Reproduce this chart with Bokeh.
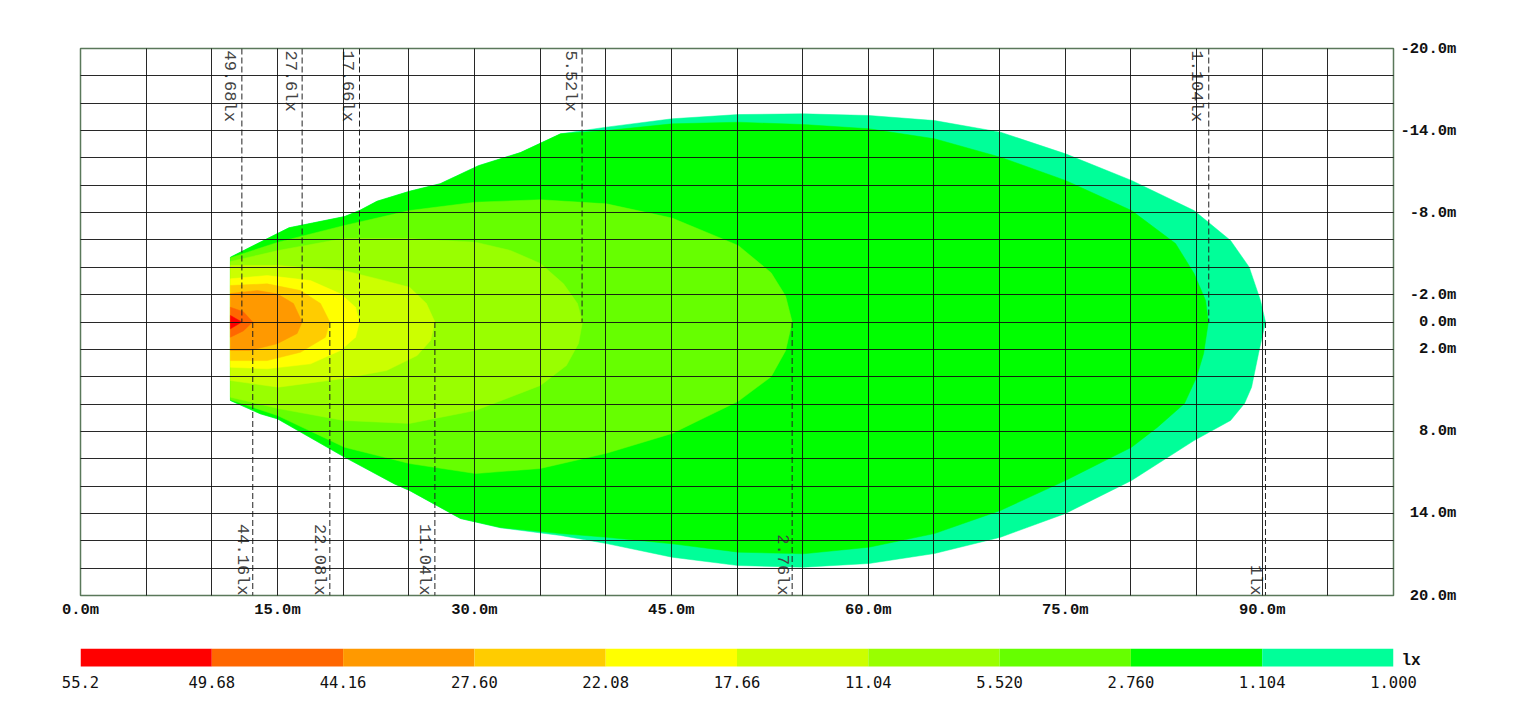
import math
from bokeh.plotting import figure
from bokeh.models import Range1d, FixedTicker, PrintfTickFormatter, ColumnDataSource, LinearAxis
from bokeh.layouts import column
from bokeh.core.properties import value
from bokeh.embed import file_html
from bokeh.resources import INLINE

# ---------------- data ----------------
levels = [55.2, 49.68, 44.16, 27.60, 22.08, 17.66, 11.04, 5.520, 2.760, 1.104, 1.000]
level_labels = ["55.2", "49.68", "44.16", "27.60", "22.08", "17.66", "11.04", "5.520", "2.760", "1.104", "1.000"]
band_colors = ["#FF0000", "#FF6600", "#FF9900", "#FFCC00", "#FFFF00",
               "#CCFF00", "#99FF00", "#66FF00", "#00FF00", "#00FF99"]
unit_label = "lx"

# iso-lux contour outlines (metres): x = distance, y = lateral offset
c1000_x = [11.42, 15.88, 20.11, 21.25, 22.58, 25.06, 27.39, 30.31, 33.51, 36.56, 40.06, 45.06, 50.09, 55.07,
           60.05, 65.04, 70.07, 75.02, 80.05, 84.81, 87.59, 89.01, 89.87, 90.25, 89.72, 89.19, 88.65, 87.59,
           84.81, 80.05, 75.02, 70.07, 65.04, 60.05, 55.07, 50.09, 45.06, 40.06, 36.56, 31.99, 28.94, 25.06,
           23.89, 20.11, 15.00, 13.69, 11.42]
c1000_y = [-4.74, -6.89, -7.71, -8.15, -8.83, -9.56, -10.11, -11.43, -12.39, -13.76, -14.25, -14.86, -15.17, -15.22,
           -15.10, -14.73, -13.88, -12.30, -10.35, -8.15, -5.96, -4.01, -1.57, 0.0, 2.30, 4.77, 5.96, 7.20,
           8.67, 11.59, 14.00, 15.74, 16.93, 17.66, 17.93, 17.81, 17.20, 16.20, 15.61, 15.05, 14.37, 12.32,
           11.83, 9.88, 7.08, 6.71, 5.74]

c1104_x = [11.42, 15.88, 20.11, 21.25, 22.58, 25.06, 27.39, 30.31, 33.51, 36.56, 40.06, 45.06, 50.09, 55.07,
           60.05, 65.04, 70.07, 75.02, 80.05, 83.40, 84.81, 85.69, 85.90, 85.54, 85.00, 84.08, 82.03, 80.05,
           75.02, 70.07, 65.04, 60.05, 55.07, 50.09, 45.06, 40.06, 36.56, 31.99, 28.94, 25.06, 23.89, 20.11,
           15.00, 13.69, 11.42]
c1104_y = [-4.74, -6.89, -7.71, -8.15, -8.83, -9.56, -10.11, -11.43, -12.39, -13.76, -14.00, -14.49, -14.61, -14.44,
           -14.13, -13.40, -12.05, -10.35, -8.15, -5.74, -3.55, -1.57, 0.0, 2.30, 4.04, 5.96, 7.69, 9.16,
           11.59, 13.78, 15.47, 16.47, 16.95, 16.83, 16.22, 15.74, 15.47, 15.03, 14.37, 12.32, 11.83, 9.88,
           7.08, 6.71, 5.74]

c2760_x = [11.42, 15.06, 20.11, 25.06, 30.08, 35.03, 40.06, 45.06, 50.09, 52.6, 53.7, 54.2, 53.7, 52.6,
           50.09, 45.06, 40.06, 35.03, 30.08, 25.06, 20.11, 15.00, 11.42]
c2760_y = [-4.69, -5.84, -7.06, -8.15, -8.76, -8.94, -8.64, -7.6, -5.6, -3.6, -1.9, 0.0, 2.1, 4.0,
           5.8, 8.15, 9.6, 10.71, 11.08, 10.35, 9.16, 6.84, 5.69]

c5520_x = [11.42, 15.06, 20.03, 25.06, 30.08, 32.75, 35.03, 36.79, 37.85, 38.23, 37.93, 37.01, 35.03,
           30.08, 25.06, 20.03, 15.06, 11.42]
c5520_y = [-4.42, -5.23, -6.11, -6.11, -5.84, -5.23, -4.28, -2.79, -1.35, 0.0, 1.57, 3.18, 4.64,
           6.47, 7.42, 7.20, 6.33, 5.50]

c11040_x = [11.42, 15.06, 20.03, 23.00, 25.06, 26.35, 26.99, 26.66, 25.64, 23.31, 20.03, 15.06, 11.42]
c11040_y = [-4.13, -4.13, -3.77, -3.06, -2.54, -1.35, 0.0, 1.35, 2.45, 3.55, 4.13, 4.77, 4.28]

c17660_x = [11.42, 14.22, 17.52, 19.80, 20.95, 21.25, 20.95, 19.80, 17.52, 14.22, 11.42]
c17660_y = [-3.16, -3.40, -3.03, -2.06, -1.08, 0.0, 1.11, 2.08, 3.06, 3.42, 3.31]

c22080_x = [11.42, 14.22, 16.76, 18.28, 18.99, 18.66, 16.76, 14.22, 11.42]
c22080_y = [-2.67, -2.79, -2.30, -1.35, 0.0, 1.11, 2.21, 2.82, 2.82]

c27600_x = [11.42, 13.46, 14.98, 16.22, 16.88, 16.50, 14.98, 12.90, 11.42]
c27600_y = [-2.08, -2.30, -2.06, -1.35, 0.0, 0.84, 1.59, 2.08, 2.08]

c44160_x = [11.42, 12.40, 13.12, 12.40, 11.42]
c44160_y = [-1.08, -0.75, 0.0, 0.65, 1.11]

c49680_x = [11.42, 12.29, 11.42]
c49680_y = [-0.48, 0.0, 0.50]

# reach markers (dashed lines with labels)
top_mark_x = [12.29, 16.88, 21.25, 38.20, 85.93]
top_mark_text = ["49.68lx", "27.6lx", "17.66lx", "5.52lx", "1.104lx"]
bot_mark_x = [13.12, 18.99, 26.99, 54.20, 90.25]
bot_mark_text = ["44.16lx", "22.08lx", "11.04lx", "2.76lx", "1lx"]

x_ticks = [0, 15, 30, 45, 60, 75, 90]
y_ticks = [-20, -14, -8, -2, 0, 2, 8, 14, 20]
X_MIN, X_MAX, Y_MIN, Y_MAX = 0, 100, -20, 20

# ---------------- main plot ----------------
p = figure(width=1483, height=630, x_range=Range1d(X_MIN, X_MAX), y_range=Range1d(Y_MAX, Y_MIN),
           output_backend="svg", toolbar_location=None, y_axis_location="right",
           min_border_left=80, min_border_right=90, min_border_top=48, min_border_bottom=35)
p.background_fill_color = "white"
p.outline_line_color = "#5a785a"
p.outline_line_width = 1.5

xs = [c1000_x, c1104_x, c2760_x, c5520_x, c11040_x, c17660_x, c22080_x, c27600_x, c44160_x, c49680_x]
ys = [c1000_y, c1104_y, c2760_y, c5520_y, c11040_y, c17660_y, c22080_y, c27600_y, c44160_y, c49680_y]
fill = list(reversed(band_colors))
src = ColumnDataSource(dict(xs=xs, ys=ys, color=fill))
p.patches(xs="xs", ys="ys", fill_color="color", line_color="color", line_width=0.5, source=src)

# grid on top of the fills
p.xgrid.ticker = FixedTicker(ticks=list(range(X_MIN, X_MAX, 5)))
p.ygrid.ticker = FixedTicker(ticks=list(range(Y_MIN + 2, Y_MAX + 1, 2)))
for g in (p.xgrid, p.ygrid):
    g.grid_line_color = "#111111"
    g.grid_line_width = 1
    g.grid_line_alpha = 0.9
    g.level = "guide"

# dashed reach lines
p.segment(x0=top_mark_x, y0=[Y_MIN] * len(top_mark_x), x1=top_mark_x, y1=[0] * len(top_mark_x),
          line_color="#222222", line_width=1, line_dash="6 3")
p.segment(x0=bot_mark_x, y0=[0] * len(bot_mark_x), x1=bot_mark_x, y1=[Y_MAX] * len(bot_mark_x),
          line_color="#222222", line_width=1, line_dash="6 3")

p.text(x=top_mark_x, y=[Y_MIN] * len(top_mark_x), text=top_mark_text, angle=-math.pi / 2,
       text_align="left", text_baseline="alphabetic", x_offset=-12, y_offset=2,
       text_font=value("Liberation Mono"), text_font_size="17px", text_color="#444444")
p.text(x=bot_mark_x, y=[Y_MAX] * len(bot_mark_x), text=bot_mark_text, angle=-math.pi / 2,
       text_align="right", text_baseline="alphabetic", x_offset=-10, y_offset=0,
       text_font=value("Liberation Mono"), text_font_size="17px", text_color="#444444")

# axes
p.xaxis.ticker = FixedTicker(ticks=x_ticks)
p.xaxis.formatter = PrintfTickFormatter(format="%.1fm")
p.yaxis.ticker = FixedTicker(ticks=y_ticks)
p.yaxis.major_label_overrides = {t: (f"{t:.1f}m").rjust(6, "\u00a0") for t in y_ticks}
for ax in (p.xaxis, p.yaxis):
    ax.axis_line_color = None
    ax.major_tick_line_color = None
    ax.minor_tick_line_color = None
    ax.major_tick_out = 0
    ax.major_tick_in = 0
    ax.major_label_text_font = "Liberation Mono"
    ax.major_label_text_font_style = "bold"
    ax.major_label_text_font_size = "15.5px"
    ax.major_label_text_color = "#111111"
p.xaxis.major_label_standoff = 5
p.yaxis.major_label_standoff = 7

# ---------------- colour bar ----------------
n = len(band_colors)
cb = figure(width=1483, height=66, x_range=Range1d(0, n), y_range=Range1d(-0.39, 1),
            output_backend="svg", toolbar_location=None, y_axis_location=None,
            min_border_left=80, min_border_right=90, min_border_top=18, min_border_bottom=23)
cb.outline_line_color = None
cb.grid.visible = False
cb.quad(left=list(range(n)), right=list(range(1, n + 1)), bottom=0, top=1,
        fill_color=band_colors, line_color=None)
cb.xaxis.ticker = FixedTicker(ticks=list(range(n + 1)))
cb.xaxis.major_label_overrides = {i: s for i, s in enumerate(level_labels)}
cb.xaxis.axis_line_color = None
cb.xaxis.major_tick_line_color = None
cb.xaxis.minor_tick_line_color = None
cb.xaxis.major_tick_out = 0
cb.xaxis.major_label_standoff = 2
cb.xaxis.major_label_text_font = "DejaVu Sans Mono"
cb.xaxis.major_label_text_font_size = "15.5px"
cb.xaxis.major_label_text_color = "#111111"

unit_axis = LinearAxis(ticker=FixedTicker(ticks=[]), axis_label=unit_label,
                       axis_label_orientation="horizontal", axis_label_standoff=8,
                       axis_label_text_font="Liberation Mono", axis_label_text_font_style="bold",
                       axis_label_text_font_size="16px", axis_label_text_color="#111111",
                       axis_line_color=None, major_tick_line_color=None, minor_tick_line_color=None,
                       major_tick_out=0, major_tick_in=0, major_label_standoff=0)
cb.add_layout(unit_axis, "right")

layout = column(p, cb, spacing=0)
open("out.html", "w").write(file_html(layout, INLINE))
